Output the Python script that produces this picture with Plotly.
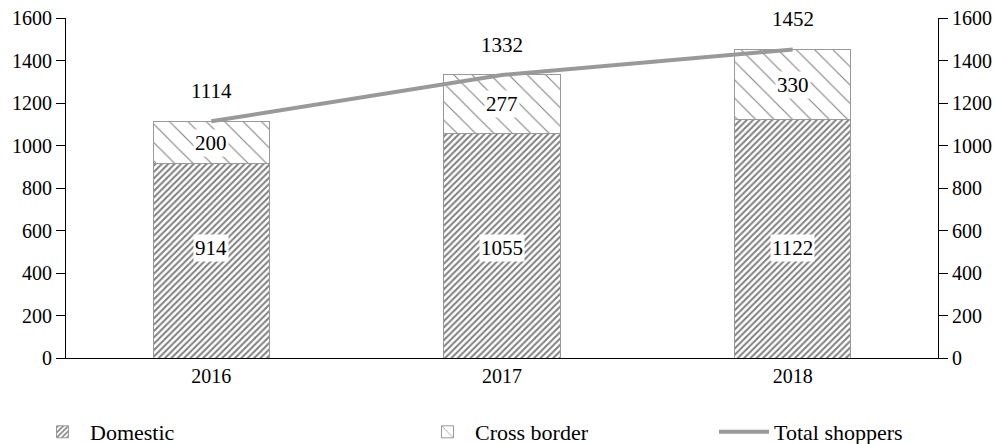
import plotly.graph_objects as go

years = ["2016", "2017", "2018"]
domestic = [914, 1055, 1122]
cross_border = [200, 277, 330]
total = [1114, 1332, 1452]
y_ticks = [0, 200, 400, 600, 800, 1000, 1200, 1400, 1600]

FONT = "Liberation Serif, Times New Roman, serif"
# page body has an 8px margin; size the figure to fit the 1004x444 window
OFF = 8
W, H = 1004 - OFF, 444 - OFF
L, R, T, B = 66 - OFF, 66, 18 - OFF, 86

fig = go.Figure()
fig.add_trace(go.Bar(
    x=years, y=domestic, name="Domestic", width=0.4,
    marker=dict(color="white", line=dict(color="#999999", width=1),
                pattern=dict(shape="/", size=4.5, solidity=0.45, fgcolor="#000000", bgcolor="white")),
    legend="legend",
))
fig.add_trace(go.Bar(
    x=years, y=cross_border, name="Cross border", width=0.4,
    marker=dict(color="white", line=dict(color="#999999", width=1),
                pattern=dict(shape="\\", size=13, solidity=0.08, fgcolor="#000000", bgcolor="white")),
    legend="legend2",
))
fig.add_trace(go.Scatter(
    x=years, y=total, name="Total shoppers", mode="lines",
    line=dict(color="#999999", width=4), legend="legend3",
))
# invisible trace to activate right axis
fig.add_trace(go.Scatter(x=years, y=total, yaxis="y2", mode="lines",
                         line=dict(width=0), showlegend=False, hoverinfo="skip"))

ann_font = dict(family=FONT, size=21, color="black")
annotations = []
for i, (d, c, t) in enumerate(zip(domestic, cross_border, total)):
    annotations.append(dict(x=i, y=520, text=str(d), showarrow=False,
                            bgcolor="white", font=ann_font, borderpad=1))
    annotations.append(dict(x=i, y=d + c / 2, text=str(c), showarrow=False,
                            bgcolor="white", font=ann_font, borderpad=1))
    annotations.append(dict(x=i, y=t, yshift=30, text=str(t), showarrow=False,
                            font=ann_font))

axis_common = dict(range=[0, 1600], tickvals=y_ticks, showgrid=False, zeroline=False,
                   showline=True, linecolor="black", linewidth=1,
                   ticks="outside", ticklen=9, tickcolor="black",
                   ticklabeloverflow="allow",
                   tickfont=dict(family=FONT, size=20, color="black"))

PW = W - L - R
PH = H - T - B

def lx(px):
    return (px - OFF - L) / PW

leg_y = (H - B - (432 - OFF)) / PH
leg_common = dict(orientation="h", yanchor="middle", y=leg_y, xanchor="left",
                  font=dict(family=FONT, size=22, color="black"), bgcolor="rgba(0,0,0,0)")

fig.update_layout(
    width=W, height=H, margin=dict(l=L, r=R, t=T, b=B, autoexpand=False),
    paper_bgcolor="white", plot_bgcolor="white",
    barmode="stack",
    font=dict(family=FONT, size=20, color="black"),
    xaxis=dict(type="category", range=[-0.5, 2.5], showline=True, linecolor="black",
               linewidth=1, ticks="", tickfont=dict(family=FONT, size=20, color="black")),
    yaxis=axis_common,
    yaxis2=dict(overlaying="y", side="right", **axis_common),
    annotations=annotations,
    legend=dict(x=lx(35), itemwidth=45, **leg_common),
    legend2=dict(x=lx(420), itemwidth=45, **leg_common),
    legend3=dict(x=lx(714), itemwidth=50, **leg_common),
    showlegend=True,
)

fig.write_html("out.html")
